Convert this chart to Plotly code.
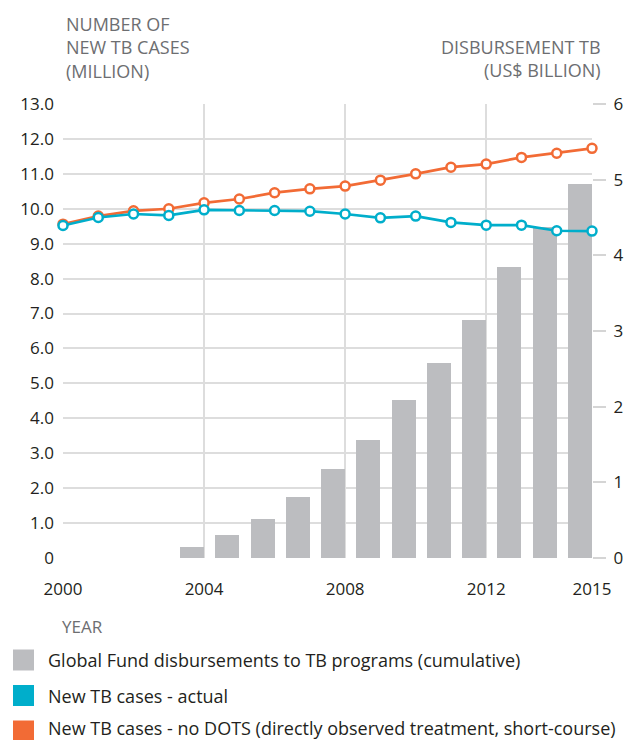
import plotly.graph_objects as go

# ---- data ----
years = list(range(2000, 2016))
cases_actual = [9.52, 9.75, 9.85, 9.81, 9.97, 9.95, 9.95, 9.93, 9.85, 9.74,
                9.79, 9.61, 9.53, 9.53, 9.37, 9.36]
cases_no_dots = [9.56, 9.79, 9.94, 10.00, 10.17, 10.28, 10.46, 10.57, 10.65, 10.82,
                 11.00, 11.19, 11.28, 11.47, 11.59, 11.73]
bar_years = list(range(2004, 2016))
disbursements = [0.15, 0.30, 0.52, 0.81, 1.17, 1.56, 2.09, 2.58, 3.15, 3.85, 4.37, 4.94]

x_ticks = [2000, 2004, 2008, 2012, 2015]
left_ticks = list(range(0, 14))
left_labels = ["0"] + [f"{v}.0" for v in range(1, 14)]
right_ticks = list(range(0, 7))

legend_labels = [
    "Global Fund disbursements to TB programs (cumulative)",
    "New TB cases - actual",
    "New TB cases - no DOTS (directly observed treatment, short-course)",
]

# ---- style ----
OFF = 8  # page body margin
W, H = 643 - OFF, 740 - OFF
L, R, T, B = 63, 592, 104, 558  # plot area in page pixels
GRAY_BAR = "#BCBDC0"
BLUE = "#00AECB"
ORANGE = "#F26B35"
GRID = "#DDDDDD"
TXT = "#231F20"
TITLE = "#6D6E71"
FONT = "Open Sans"


def px(x):
    return (x - L) / (R - L)


def py(y):
    return (B - y) / (B - T)


fig = go.Figure()
fig.add_trace(go.Bar(
    x=bar_years, y=disbursements, width=0.68, offset=-0.68,
    marker=dict(color=GRAY_BAR, line=dict(width=0)), yaxis="y",
    name=legend_labels[0], showlegend=False,
))
fig.add_trace(go.Scatter(
    x=years, y=cases_no_dots, mode="lines+markers", yaxis="y2", cliponaxis=False,
    line=dict(color=ORANGE, width=2.7),
    marker=dict(symbol="circle", size=9, color="white", line=dict(color=ORANGE, width=2.5)),
    name=legend_labels[2], showlegend=False,
))
fig.add_trace(go.Scatter(
    x=years, y=cases_actual, mode="lines+markers", yaxis="y2", cliponaxis=False,
    line=dict(color=BLUE, width=2.7),
    marker=dict(symbol="circle", size=9, color="white", line=dict(color=BLUE, width=2.5)),
    name=legend_labels[1], showlegend=False,
))

annotations = [
    dict(x=px(64), y=py(10), xref="paper", yref="paper", xanchor="left", yanchor="top",
         align="left", showarrow=False,
         text="NUMBER OF<br>NEW TB CASES<br>(MILLION)",
         font=dict(family=FONT, size=18, color=TITLE)),
    dict(x=px(603), y=py(33), xref="paper", yref="paper", xanchor="right", yanchor="top",
         align="right", showarrow=False,
         text="DISBURSEMENT TB<br>(US$ BILLION)",
         font=dict(family=FONT, size=18, color=TITLE)),
    dict(x=px(60), y=py(626), xref="paper", yref="paper", xanchor="left", yanchor="middle",
         showarrow=False, text="YEAR",
         font=dict(family=FONT, size=17, color=TITLE)),
]
shapes = []
legend_colors = [GRAY_BAR, BLUE, ORANGE]
row_centers = [660, 695.5, 731]
text_centers = [660, 695.5, 728]
for lab, col, yc, yt in zip(legend_labels, legend_colors, row_centers, text_centers):
    shapes.append(dict(type="rect", xref="paper", yref="paper",
                       x0=px(13), x1=px(34), y0=py(yc - 10.5), y1=py(yc + 10.5),
                       fillcolor=col, line=dict(width=0)))
    annotations.append(dict(x=px(46), y=py(yt), xref="paper", yref="paper",
                            xanchor="left", yanchor="middle", showarrow=False,
                            text=lab, font=dict(family=FONT, size=18, color=TXT)))

fig.update_layout(
    width=W, height=H,
    margin=dict(l=L - OFF, r=W - (R - OFF), t=T - OFF, b=H - (B - OFF), pad=0),
    paper_bgcolor="white", plot_bgcolor="white",
    font=dict(family=FONT, size=17, color=TXT),
    showlegend=False, bargap=0,
    xaxis=dict(range=[2000, 2015], tickvals=x_ticks, ticktext=[str(v) for v in x_ticks],
               showgrid=True, gridcolor=GRID, gridwidth=1.5, zeroline=False, showline=False,
               ticks="", ticklabelstandoff=19, tickfont=dict(size=17, color=TXT)),
    yaxis=dict(side="right", range=[0, 6], tickvals=right_ticks, showgrid=False,
               zeroline=False, showline=False, ticks="outside", ticklen=13,
               tickcolor="#D5D5D5", tickwidth=1.5, ticklabelstandoff=4,
               tickfont=dict(size=17, color=TXT)),
    yaxis2=dict(overlaying="y", side="left", range=[0, 13], tickvals=left_ticks,
                ticktext=left_labels, showgrid=True, gridcolor=GRID, gridwidth=1.5,
                zeroline=False, showline=False, ticks="", ticklabelstandoff=8,
                tickfont=dict(size=17, color=TXT)),
    annotations=annotations, shapes=shapes,
)

fig.write_html("out.html")
